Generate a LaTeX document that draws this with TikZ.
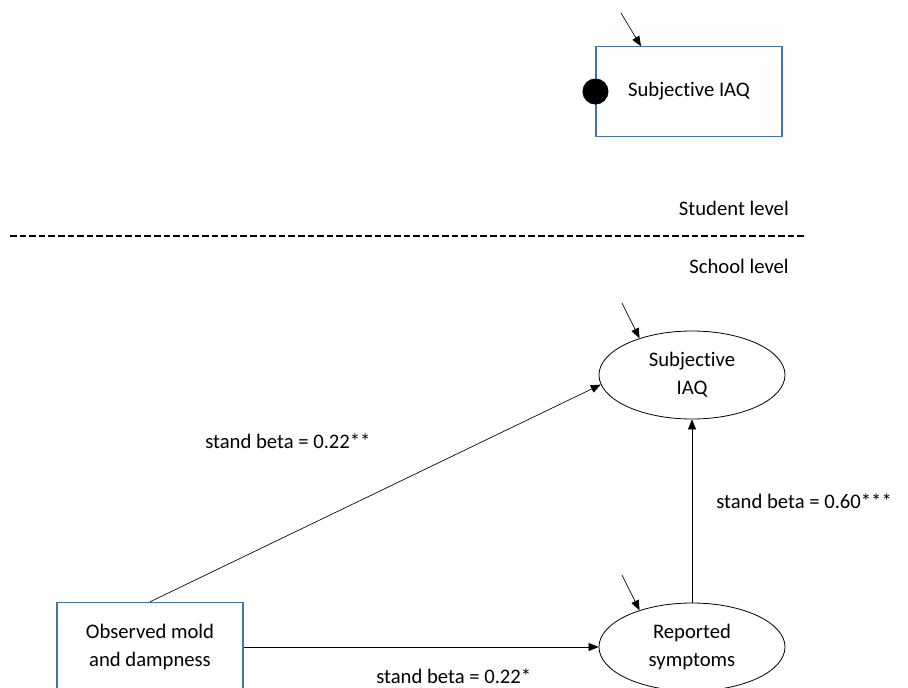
\documentclass[tikz,border=0pt]{standalone}
\usepackage{fontspec}
\setmainfont{Carlito}[Ligatures=NoCommon]
\usetikzlibrary{shapes.geometric, arrows.meta, positioning}
\definecolor{boxblue}{RGB}{68,114,170}

\tikzset{
    varbox/.style={draw=boxblue, line width=0.8pt, minimum width=139.5pt, minimum height=67pt, align=center, inner sep=0pt},
    varell/.style={ellipse, draw, line width=0.6pt, minimum width=139.5pt, minimum height=66pt, align=center, inner sep=0pt},
    path/.style={-{Triangle[length=7.5pt, width=6pt]}, line width=0.5pt},
    beta/.style={anchor=west, inner sep=0pt},
}

\begin{document}
\begin{tikzpicture}[x=0.75pt, y=-0.75pt, font=\fontsize{15.5}{21}\selectfont]
            \clip (0,0) rectangle (908,687);
            % student level
            \node[varbox] (siaqw) at (689,91.5) {Subjective IAQ};
            \fill (siaqw.west) circle (9.75pt);
            \coordinate (e1) at (621,13);
            \draw[path] (e1) -- (siaqw.north west -| 641,0);
            \node[anchor=east, inner sep=0pt] (stud) at (789,208) {Student level};
            \draw[line width=2pt, dash pattern=on 5pt off 2.2pt] (10,236) -- (805,236);
            \node[anchor=east, inner sep=0pt] (schl) at (789,266) {School level};
            % school level
            \node[varell] (siaq) at (692,375) {Subjective\\IAQ};
            \node[varell] (symp) at (692,647) {Reported\\symptoms};
            \node[varbox] (mold) at (150,647) {Observed mold\\and dampness};
            \coordinate (e2) at (622,303);
            \coordinate (e3) at (622,575);
            \draw[path] (e2) -- (siaq.145);
            \draw[path] (e3) -- (symp.145);
            \draw[path] (mold.north) -- (siaq.186);
            \draw[path] (mold) -- (symp);
            \draw[path] (symp) -- (siaq);
            \node[beta] (b1) at (205,441) {stand beta = 0.22**};
            \node[beta] (b2) at (716,501) {stand beta = 0.60***};
            \node[beta] (b3) at (376,676) {stand beta = 0.22*};
        \end{tikzpicture}
\end{document}
